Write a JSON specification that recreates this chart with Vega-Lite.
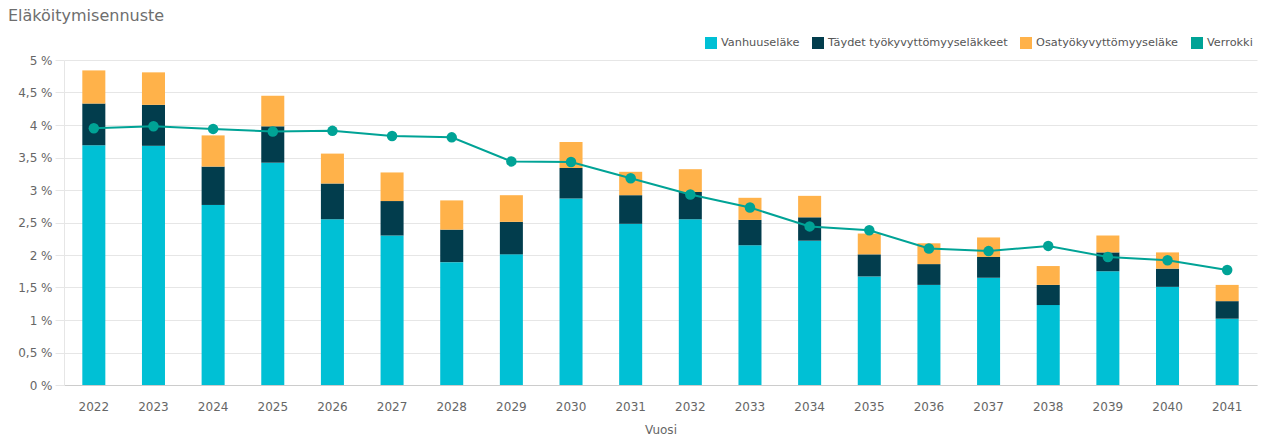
{
  "$schema": "https://vega.github.io/schema/vega-lite/v6.json",
  "width": 1193,
  "height": 325,
  "autosize": {"type": "none"},
  "padding": {"left": 64, "top": 60, "right": 10, "bottom": 61},
  "background": "white",
  "title": {
    "text": "Eläköitymisennuste",
    "anchor": "start",
    "frame": "group",
    "dx": -56,
    "offset": 13,
    "fontSize": 16,
    "font": "DejaVu Sans",
    "fontWeight": "normal",
    "color": "#6e6e6e"
  },
  "config": {
    "view": {"stroke": null},
    "font": "DejaVu Sans"
  },
  "datasets": {
    "bars": [
      {"vuosi": "2022", "tyyppi": "Vanhuuseläke", "arvo": 3.69},
      {"vuosi": "2022", "tyyppi": "Täydet työkyvyttömyyseläkkeet", "arvo": 0.64},
      {"vuosi": "2022", "tyyppi": "Osatyökyvyttömyyseläke", "arvo": 0.51},
      {"vuosi": "2023", "tyyppi": "Vanhuuseläke", "arvo": 3.68},
      {"vuosi": "2023", "tyyppi": "Täydet työkyvyttömyyseläkkeet", "arvo": 0.63},
      {"vuosi": "2023", "tyyppi": "Osatyökyvyttömyyseläke", "arvo": 0.50},
      {"vuosi": "2024", "tyyppi": "Vanhuuseläke", "arvo": 2.77},
      {"vuosi": "2024", "tyyppi": "Täydet työkyvyttömyyseläkkeet", "arvo": 0.59},
      {"vuosi": "2024", "tyyppi": "Osatyökyvyttömyyseläke", "arvo": 0.48},
      {"vuosi": "2025", "tyyppi": "Vanhuuseläke", "arvo": 3.42},
      {"vuosi": "2025", "tyyppi": "Täydet työkyvyttömyyseläkkeet", "arvo": 0.56},
      {"vuosi": "2025", "tyyppi": "Osatyökyvyttömyyseläke", "arvo": 0.47},
      {"vuosi": "2026", "tyyppi": "Vanhuuseläke", "arvo": 2.55},
      {"vuosi": "2026", "tyyppi": "Täydet työkyvyttömyyseläkkeet", "arvo": 0.55},
      {"vuosi": "2026", "tyyppi": "Osatyökyvyttömyyseläke", "arvo": 0.46},
      {"vuosi": "2027", "tyyppi": "Vanhuuseläke", "arvo": 2.30},
      {"vuosi": "2027", "tyyppi": "Täydet työkyvyttömyyseläkkeet", "arvo": 0.53},
      {"vuosi": "2027", "tyyppi": "Osatyökyvyttömyyseläke", "arvo": 0.44},
      {"vuosi": "2028", "tyyppi": "Vanhuuseläke", "arvo": 1.89},
      {"vuosi": "2028", "tyyppi": "Täydet työkyvyttömyyseläkkeet", "arvo": 0.50},
      {"vuosi": "2028", "tyyppi": "Osatyökyvyttömyyseläke", "arvo": 0.45},
      {"vuosi": "2029", "tyyppi": "Vanhuuseläke", "arvo": 2.01},
      {"vuosi": "2029", "tyyppi": "Täydet työkyvyttömyyseläkkeet", "arvo": 0.50},
      {"vuosi": "2029", "tyyppi": "Osatyökyvyttömyyseläke", "arvo": 0.41},
      {"vuosi": "2030", "tyyppi": "Vanhuuseläke", "arvo": 2.87},
      {"vuosi": "2030", "tyyppi": "Täydet työkyvyttömyyseläkkeet", "arvo": 0.47},
      {"vuosi": "2030", "tyyppi": "Osatyökyvyttömyyseläke", "arvo": 0.40},
      {"vuosi": "2031", "tyyppi": "Vanhuuseläke", "arvo": 2.48},
      {"vuosi": "2031", "tyyppi": "Täydet työkyvyttömyyseläkkeet", "arvo": 0.44},
      {"vuosi": "2031", "tyyppi": "Osatyökyvyttömyyseläke", "arvo": 0.36},
      {"vuosi": "2032", "tyyppi": "Vanhuuseläke", "arvo": 2.55},
      {"vuosi": "2032", "tyyppi": "Täydet työkyvyttömyyseläkkeet", "arvo": 0.42},
      {"vuosi": "2032", "tyyppi": "Osatyökyvyttömyyseläke", "arvo": 0.35},
      {"vuosi": "2033", "tyyppi": "Vanhuuseläke", "arvo": 2.15},
      {"vuosi": "2033", "tyyppi": "Täydet työkyvyttömyyseläkkeet", "arvo": 0.39},
      {"vuosi": "2033", "tyyppi": "Osatyökyvyttömyyseläke", "arvo": 0.34},
      {"vuosi": "2034", "tyyppi": "Vanhuuseläke", "arvo": 2.22},
      {"vuosi": "2034", "tyyppi": "Täydet työkyvyttömyyseläkkeet", "arvo": 0.36},
      {"vuosi": "2034", "tyyppi": "Osatyökyvyttömyyseläke", "arvo": 0.33},
      {"vuosi": "2035", "tyyppi": "Vanhuuseläke", "arvo": 1.67},
      {"vuosi": "2035", "tyyppi": "Täydet työkyvyttömyyseläkkeet", "arvo": 0.34},
      {"vuosi": "2035", "tyyppi": "Osatyökyvyttömyyseläke", "arvo": 0.32},
      {"vuosi": "2036", "tyyppi": "Vanhuuseläke", "arvo": 1.54},
      {"vuosi": "2036", "tyyppi": "Täydet työkyvyttömyyseläkkeet", "arvo": 0.32},
      {"vuosi": "2036", "tyyppi": "Osatyökyvyttömyyseläke", "arvo": 0.32},
      {"vuosi": "2037", "tyyppi": "Vanhuuseläke", "arvo": 1.65},
      {"vuosi": "2037", "tyyppi": "Täydet työkyvyttömyyseläkkeet", "arvo": 0.32},
      {"vuosi": "2037", "tyyppi": "Osatyökyvyttömyyseläke", "arvo": 0.30},
      {"vuosi": "2038", "tyyppi": "Vanhuuseläke", "arvo": 1.23},
      {"vuosi": "2038", "tyyppi": "Täydet työkyvyttömyyseläkkeet", "arvo": 0.31},
      {"vuosi": "2038", "tyyppi": "Osatyökyvyttömyyseläke", "arvo": 0.29},
      {"vuosi": "2039", "tyyppi": "Vanhuuseläke", "arvo": 1.75},
      {"vuosi": "2039", "tyyppi": "Täydet työkyvyttömyyseläkkeet", "arvo": 0.29},
      {"vuosi": "2039", "tyyppi": "Osatyökyvyttömyyseläke", "arvo": 0.26},
      {"vuosi": "2040", "tyyppi": "Vanhuuseläke", "arvo": 1.51},
      {"vuosi": "2040", "tyyppi": "Täydet työkyvyttömyyseläkkeet", "arvo": 0.28},
      {"vuosi": "2040", "tyyppi": "Osatyökyvyttömyyseläke", "arvo": 0.25},
      {"vuosi": "2041", "tyyppi": "Vanhuuseläke", "arvo": 1.02},
      {"vuosi": "2041", "tyyppi": "Täydet työkyvyttömyyseläkkeet", "arvo": 0.27},
      {"vuosi": "2041", "tyyppi": "Osatyökyvyttömyyseläke", "arvo": 0.25}
    ],
    "verrokki": [
      {"vuosi": "2022", "tyyppi": "Verrokki", "arvo": 3.95},
      {"vuosi": "2023", "tyyppi": "Verrokki", "arvo": 3.98},
      {"vuosi": "2024", "tyyppi": "Verrokki", "arvo": 3.94},
      {"vuosi": "2025", "tyyppi": "Verrokki", "arvo": 3.90},
      {"vuosi": "2026", "tyyppi": "Verrokki", "arvo": 3.91},
      {"vuosi": "2027", "tyyppi": "Verrokki", "arvo": 3.83},
      {"vuosi": "2028", "tyyppi": "Verrokki", "arvo": 3.81},
      {"vuosi": "2029", "tyyppi": "Verrokki", "arvo": 3.44},
      {"vuosi": "2030", "tyyppi": "Verrokki", "arvo": 3.43},
      {"vuosi": "2031", "tyyppi": "Verrokki", "arvo": 3.18},
      {"vuosi": "2032", "tyyppi": "Verrokki", "arvo": 2.93},
      {"vuosi": "2033", "tyyppi": "Verrokki", "arvo": 2.73},
      {"vuosi": "2034", "tyyppi": "Verrokki", "arvo": 2.44},
      {"vuosi": "2035", "tyyppi": "Verrokki", "arvo": 2.38},
      {"vuosi": "2036", "tyyppi": "Verrokki", "arvo": 2.10},
      {"vuosi": "2037", "tyyppi": "Verrokki", "arvo": 2.06},
      {"vuosi": "2038", "tyyppi": "Verrokki", "arvo": 2.14},
      {"vuosi": "2039", "tyyppi": "Verrokki", "arvo": 1.97},
      {"vuosi": "2040", "tyyppi": "Verrokki", "arvo": 1.92},
      {"vuosi": "2041", "tyyppi": "Verrokki", "arvo": 1.77}
    ]
  },
  "encoding": {
    "x": {
      "field": "vuosi",
      "type": "ordinal",
      "title": "Vuosi",
      "scale": {"paddingInner": 0.614, "paddingOuter": 0.307},
      "axis": {
        "labelAngle": 0,
        "labelFontSize": 12,
        "labelColor": "#666666",
        "labelPadding": 16,
        "ticks": false,
        "domainColor": "#cccccc",
        "titleFontSize": 12,
        "titleFontWeight": "normal",
        "titleColor": "#666666",
        "titlePadding": 12
      }
    },
    "y": {
      "field": "arvo",
      "type": "quantitative",
      "title": null,
      "stack": "zero",
      "scale": {"domain": [0, 5], "nice": false},
      "axis": {
        "values": [0, 0.5, 1, 1.5, 2, 2.5, 3, 3.5, 4, 4.5, 5],
        "labelExpr": "replace(format(datum.value, '.1~f'), '.', ',') + ' %'",
        "labelFontSize": 12,
        "labelColor": "#666666",
        "labelPadding": 3,
        "tickSize": 9,
        "tickColor": "#e6e6e6",
        "gridColor": "#e6e6e6",
        "domainColor": "#e6e6e6"
      }
    },
    "color": {
      "field": "tyyppi",
      "type": "nominal",
      "scale": {
        "domain": ["Vanhuuseläke", "Täydet työkyvyttömyyseläkkeet", "Osatyökyvyttömyyseläke", "Verrokki"],
        "range": ["#00c0d5", "#023d4d", "#ffb24a", "#00a396"]
      },
      "legend": {
        "title": null,
        "orient": "none",
        "direction": "horizontal",
        "legendX": 641,
        "legendY": -23,
        "symbolType": "square",
        "symbolSize": 144,
        "symbolStrokeWidth": 0,
        "symbolOpacity": 1,
        "labelFontSize": 11.3,
        "labelColor": "#555555",
        "labelOffset": 4,
        "labelLimit": 0,
        "columnPadding": 12
      }
    }
  },
  "layer": [
    {
      "data": {"name": "bars"},
      "mark": {"type": "bar"},
      "encoding": {
        "order": {"field": "tyyppi", "sort": "descending"}
      }
    },
    {
      "data": {"name": "verrokki"},
      "mark": {"type": "line", "strokeWidth": 2},
      "encoding": {}
    },
    {
      "data": {"name": "verrokki"},
      "mark": {"type": "point", "filled": true, "size": 110, "opacity": 1},
      "encoding": {}
    }
  ]
}
